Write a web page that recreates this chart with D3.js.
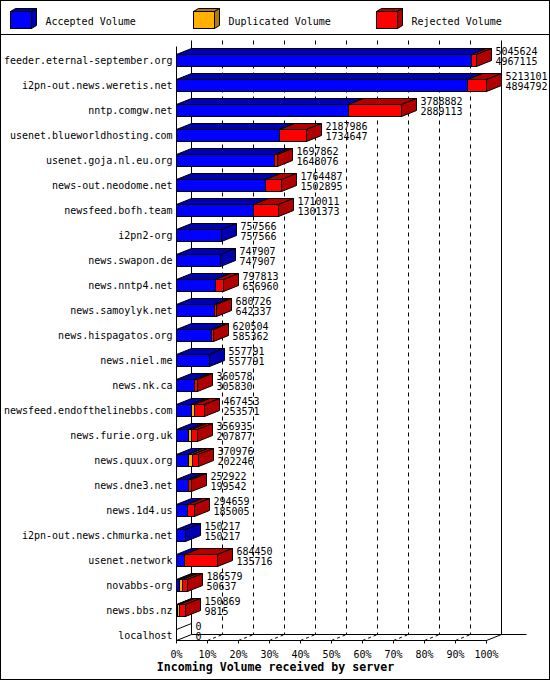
<!DOCTYPE html>
<html>
<head>
<meta charset="utf-8">
<script src="https://cdn.jsdelivr.net/npm/d3@7"></script>
<style>
  body { margin: 0; background: #fff; }
  text { font-family: "DejaVu Sans Mono", monospace; font-size: 10px; fill: #000; }
  .title { font-weight: bold; font-size: 11.6px; }
</style>
</head>
<body>
<div id="vis"></div>
<script>
// servers, top to bottom
const servers = [
  "feeder.eternal-september.org", "i2pn-out.news.weretis.net", "nntp.comgw.net",
  "usenet.blueworldhosting.com", "usenet.goja.nl.eu.org", "news-out.neodome.net",
  "newsfeed.bofh.team", "i2pn2-org", "news.swapon.de", "news.nntp4.net",
  "news.samoylyk.net", "news.hispagatos.org", "news.niel.me", "news.nk.ca",
  "newsfeed.endofthelinebbs.com", "news.furie.org.uk", "news.quux.org",
  "news.dne3.net", "news.1d4.us", "i2pn-out.news.chmurka.net", "usenet.network",
  "novabbs-org", "news.bbs.nz", "localhost"
];

// incoming volume (first label line)
const totals = [
  5045624, 5213101, 3788882, 2187986, 1697862, 1764487, 1710011, 757566,
  747907, 797813, 680726, 620504, 557791, 360578, 467453, 356935, 370976,
  252922, 294659, 150217, 684450, 186579, 150869, 0
];

// accepted volume (second label line)
const accepted = [
  4967115, 4894792, 2889113, 1734647, 1648076, 1502895, 1301373, 757566,
  747907, 656960, 642337, 585362, 557791, 305830, 253571, 207877, 202246,
  199542, 185005, 150217, 135716, 50637, 9815, 0
];

// duplicated volume (estimated from the orange segments)
const duplicated = [
  0, 0, 0, 0, 0, 0, 0, 0, 0, 0, 0, 0, 0, 0, 50000, 50000, 65000,
  8000, 8000, 0, 0, 50000, 45000, 0
];

// rejected volume
const rejected = [
  78509, 318309, 899769, 453339, 49786, 261592, 408638, 0, 0, 140853,
  38389, 35142, 0, 54748, 163882, 99058, 103730, 45380, 101654, 0,
  548734, 85942, 96054, 0
];

const percentTicks = [0, 10, 20, 30, 40, 50, 60, 70, 80, 90, 100];
const legendLabels = ["Accepted Volume", "Duplicated Volume", "Rejected Volume"];
const axisTitle = "Incoming Volume received by server";

const options = {
  width: 550,
  height: 680,
  left: 176,
  right: 486,
  wallTop: 40,
  floor: 640,
  firstRow: 60,
  lastRow: 635,
  depth: { x: 15, y: -6 },
  barHalf: 6,
  fill: ["#0000ff", "#ffb000", "#ff0000"],
  dark: ["#0000b0", "#b07c00", "#b00000"],
};

const svg = d3.select("#vis")
  .append("svg")
  .attr("width", options.width)
  .attr("height", options.height)
  .append("g")
  .attr("transform", "translate(0.5,0.5)");

const dx = options.depth.x, dy = options.depth.y;

// scales
const xScale = d3.scaleLinear()
  .domain([0, d3.max(totals)])
  .range([options.left, options.right]);

const pctScale = d3.scaleLinear()
  .domain([0, 100])
  .range([options.left, options.right]);

const yScale = d3.scalePoint()
  .domain(servers)
  .range([options.firstRow, options.lastRow]);

// frame + legend
svg.append("rect")
  .attr("x", 0).attr("y", 0)
  .attr("width", options.width - 1).attr("height", options.height - 1)
  .attr("fill", "none").attr("stroke", "#000");

svg.append("line")
  .attr("x1", 0).attr("x2", options.width - 1)
  .attr("y1", 34).attr("y2", 34)
  .attr("stroke", "#000");

const legend = svg.selectAll(".legend")
  .data(legendLabels)
  .join("g")
  .attr("transform", (d, i) => `translate(${10 + i * 183},11)`);

legend.append("polygon")
  .attr("points", "0,0 21,0 26,-3 5,-3")
  .attr("fill", (d, i) => options.dark[i]).attr("stroke", "#000");
legend.append("polygon")
  .attr("points", "21,0 26,-3 26,14 21,17")
  .attr("fill", (d, i) => options.dark[i]).attr("stroke", "#000");
legend.append("rect")
  .attr("width", 21).attr("height", 17)
  .attr("fill", (d, i) => options.fill[i]).attr("stroke", "#000");
legend.append("text")
  .attr("x", 35).attr("y", 13)
  .text((d) => d);

// back wall grid
const inner = percentTicks.slice(1, -1);

svg.selectAll(".vgrid")
  .data(inner)
  .join("line")
  .attr("x1", (d) => Math.round(pctScale(d)) + dx)
  .attr("x2", (d) => Math.round(pctScale(d)) + dx)
  .attr("y1", options.wallTop).attr("y2", options.floor + dy)
  .attr("stroke", "#000").attr("stroke-dasharray", "4,4");

svg.selectAll(".fgrid")
  .data(inner)
  .join("line")
  .attr("x1", (d) => Math.round(pctScale(d)))
  .attr("y1", options.floor)
  .attr("x2", (d) => Math.round(pctScale(d)) + dx)
  .attr("y2", options.floor + dy)
  .attr("stroke", "#000").attr("stroke-dasharray", "3,3");

// walls and floor edges
const L = options.left, R = options.right, F = options.floor;
const edges = [
  [L + dx, options.wallTop, L + dx, F + dy],
  [R + dx, options.wallTop, R + dx, F + dy],
  [L, options.wallTop - dy, L, F],
  [L, F, R, F],
  [L, F, L + dx, F + dy],
  [R, F, R + dx, F + dy],
  [L + dx, F + dy, R + dx + 25, F + dy],
];
svg.selectAll(".edge")
  .data(edges)
  .join("line")
  .attr("x1", (d) => d[0]).attr("y1", (d) => d[1])
  .attr("x2", (d) => d[2]).attr("y2", (d) => d[3])
  .attr("stroke", "#000");

// ticks + labels
svg.selectAll(".tick")
  .data(percentTicks)
  .join("line")
  .attr("x1", (d) => Math.round(pctScale(d)))
  .attr("x2", (d) => Math.round(pctScale(d)))
  .attr("y1", F).attr("y2", F + 3)
  .attr("stroke", "#000");

svg.selectAll(".ticklabel")
  .data(percentTicks)
  .join("text")
  .attr("x", (d) => Math.round(pctScale(d)))
  .attr("y", 657)
  .attr("text-anchor", "middle")
  .text((d) => d + "%");

svg.append("text")
  .attr("class", "title")
  .attr("x", options.width / 2)
  .attr("y", 670)
  .attr("text-anchor", "middle")
  .text(axisTitle);

// bars
const rows = servers.map((name, i) => ({
  name,
  total: totals[i],
  acc: accepted[i],
  segs: [accepted[i], duplicated[i], rejected[i]],
}));

const row = svg.selectAll(".row")
  .data(rows)
  .join("g")
  .attr("transform", (d) => `translate(0,${yScale(d.name)})`);

row.each(function (d) {
  const g = d3.select(this);
  const yT = -options.barHalf, yB = options.barHalf;
  let cum = 0;
  if (d.total === 0) {
    g.append("line")
      .attr("x1", L).attr("y1", yT)
      .attr("x2", L + dx).attr("y2", yT + dy)
      .attr("stroke", "#000");
    return;
  }
  d.segs.forEach((v, k) => {
    if (v <= 0) return;
    const x0 = Math.round(xScale(cum));
    cum += v;
    const x1 = Math.round(xScale(cum));
    g.append("rect")
      .attr("x", x0).attr("y", yT)
      .attr("width", x1 - x0).attr("height", yB - yT)
      .attr("fill", options.fill[k]).attr("stroke", "#000");
    g.append("polygon")
      .attr("points", [[x0, yT], [x1, yT], [x1 + dx, yT + dy], [x0 + dx, yT + dy]].join(" "))
      .attr("fill", options.dark[k]).attr("stroke", "#000");
    g.append("polygon")
      .attr("points", [[x1, yT], [x1 + dx, yT + dy], [x1 + dx, yB + dy], [x1, yB]].join(" "))
      .attr("fill", options.dark[k]).attr("stroke", "#000");
  });
});

// row labels
row.append("text")
  .attr("x", 172)
  .attr("y", 3)
  .attr("text-anchor", "end")
  .text((d) => d.name);

// value labels
row.append("text")
  .attr("x", (d) => Math.round(xScale(d.total)) + dx + 4)
  .attr("y", -6)
  .text((d) => d.total);

row.append("text")
  .attr("x", (d) => Math.round(xScale(d.total)) + dx + 4)
  .attr("y", 4)
  .text((d) => d.acc);
</script>
</body>
</html>
